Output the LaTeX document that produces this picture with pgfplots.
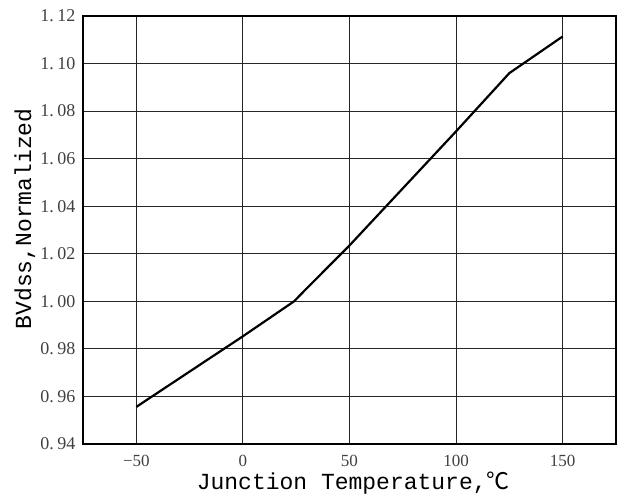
\documentclass[border=0pt]{standalone}
\usepackage{pgfplots}
\pgfplotsset{compat=1.18}
\usepackage{fontspec}
\setmainfont{Liberation Serif}
\newfontfamily\monof{Liberation Mono}
\newfontfamily\cjk{Noto Sans CJK SC}

\begin{document}
\begin{tikzpicture}
\path[use as bounding box] (-83pt,-54pt) rectangle (544pt,444pt);
\begin{axis}[
  scale only axis, width=533pt, height=428pt,
  at={(0,0)}, anchor=south west,
  xmin=-75, xmax=175, ymin=0.94, ymax=1.12,
  xtick={-50,0,50,100,150},
  xticklabels={−50,0,50,100,150},
  ytick={0.94,0.96,0.98,1.00,1.02,1.04,1.06,1.08,1.10,1.12},
  yticklabels={0.\kern.2em94,0.\kern.2em96,0.\kern.2em98,1.\kern.2em00,1.\kern.2em02,1.\kern.2em04,1.\kern.2em06,1.\kern.2em08,1.\kern.2em10,1.\kern.2em12},
  major tick length=0pt,
  grid=major,
  grid style={black!85, line width=0.9pt},
  axis line style={black, line width=2.6pt},
  xticklabel style={font=\fontsize{17}{19}\selectfont, text=black!75, yshift=-8pt},
  yticklabel style={font=\fontsize{18}{20}\selectfont, text=black!75, xshift=-4pt},
  xlabel={\monof Junction Temperature,{\cjk ℃}},
  ylabel={\monof BVdss,Normalized},
  label style={font=\fontsize{23}{26}\selectfont},
  xlabel style={at={(axis description cs:0.507,-0.091)}, anchor=center},
  ylabel style={at={(axis description cs:-0.109,0.526)}, anchor=center},
]
\addplot[black, line width=2.2pt] coordinates {
  (-50,0.9556) (0,0.9853) (24,1.0000) (30,1.0055)
  (50,1.0235) (100,1.0715) (125,1.0960) (132,1.1003) (150,1.1114)
};
\end{axis}
\end{tikzpicture}
\end{document}
